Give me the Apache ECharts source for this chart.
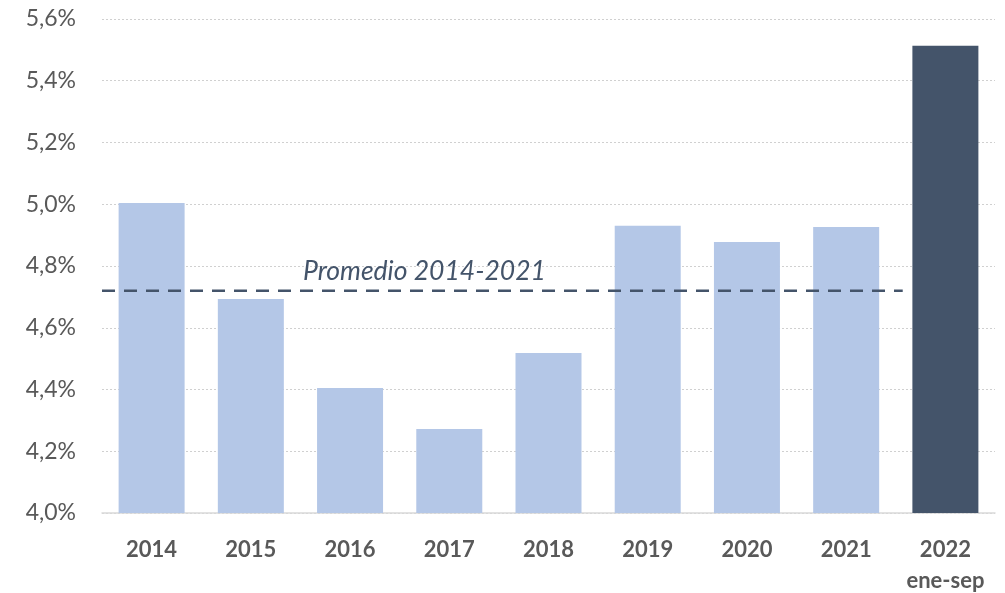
<!DOCTYPE html>
<html lang="es">
<head>
    <meta charset="utf-8">
    <title>Promedio 2014-2021</title>
    <script src="https://cdn.jsdelivr.net/npm/echarts@6/dist/echarts.min.js"></script>
    <style>
        body { margin: 0; background: #fff; }
        #main { width: 1005px; height: 593px; }
    </style>
</head>
<body>
    <div id="main"></div>
    <script type="text/javascript">
        // datos
        var years = ['2014', '2015', '2016', '2017', '2018', '2019', '2020', '2021', '2022\nene-sep'];
        var values = [5.004, 4.693, 4.405, 4.272, 4.518, 4.930, 4.878, 4.926, 5.513];
        var promedio = 4.72;
        var promedioLabel = 'Promedio 2014-2021';
        var yTicks = { min: 4.0, max: 5.6, step: 0.2 };

        var myChart = echarts.init(document.getElementById('main'));

        var barData = values.map(function (v, i) {
            return {
                value: v,
                itemStyle: { color: i === values.length - 1 ? '#44546a' : '#b4c7e7' }
            };
        });

        var option = {
            animation: false,
            textStyle: { fontFamily: 'Lato' },
            grid: { left: 102, right: 10, top: 19, bottom: 80, outerBoundsMode: 'none', containLabel: false },
            xAxis: [{
                type: 'category',
                data: years,
                axisLine: { lineStyle: { color: '#d9d9d9', width: 1.5 } },
                axisTick: { show: false },
                axisLabel: {
                    interval: 0,
                    color: '#595959',
                    fontSize: 22,
                    fontWeight: 'bold',
                    margin: 21,
                    lineHeight: 31
                }
            }, {
                type: 'value',
                min: 0,
                max: years.length,
                show: false
            }],
            yAxis: {
                type: 'value',
                min: yTicks.min,
                max: yTicks.max,
                interval: yTicks.step,
                axisLine: { show: false },
                axisTick: { show: false },
                splitLine: { lineStyle: { color: '#d0d0d0', type: [2, 2], width: 1 } },
                axisLabel: {
                    color: '#595959',
                    fontSize: 23,
                    margin: 26,
                    formatter: function (v) { return v.toFixed(1).replace('.', ',') + '%'; }
                }
            },
            series: [{
                type: 'bar',
                xAxisIndex: 0,
                data: barData,
                barWidth: 66
            }, {
                type: 'line',
                xAxisIndex: 1,
                data: [[0, promedio], [8.07, promedio]],
                symbol: 'none',
                lineStyle: { color: '#44546a', width: 2.5, type: [13, 9] },
                markPoint: {
                    symbol: 'rect',
                    symbolSize: 0,
                    data: [{ coord: [3.25, promedio] }],
                    label: {
                        show: true,
                        formatter: promedioLabel,
                        position: 'inside',
                        offset: [0, -19],
                        color: '#44546a',
                        fontSize: 26.5,
                        fontStyle: 'italic'
                    }
                },
                z: 5
            }]
        };

        myChart.setOption(option);
    </script>
</body>
</html>
